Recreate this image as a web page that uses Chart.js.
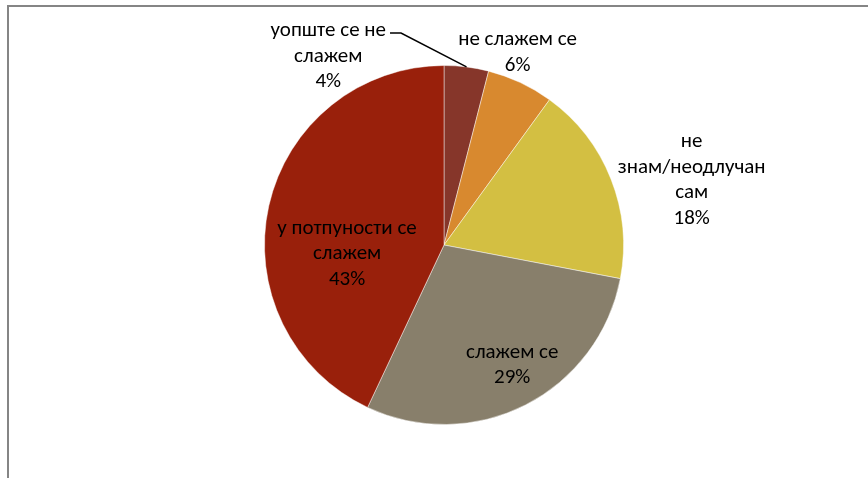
<!DOCTYPE html>
<html>
<head>
<meta charset="utf-8">
<script src="https://cdn.jsdelivr.net/npm/chart.js@4"></script>
<style>
  html, body { margin: 0; padding: 0; background: #fff; }
  body { width: 868px; height: 478px; overflow: hidden; position: relative; }
  .okvir { position: absolute; left: 7px; top: 5px; width: 900px; height: 500px; border: 2px solid #858585; }
  canvas { position: absolute; left: 0; top: 0; }
</style>
</head>
<body>
<div class="okvir"></div>
<canvas id="pita" width="868" height="478"></canvas>
<script>
// podaci sa grafikona
const kategorije = [
  ["уопште се не", "слажем"],
  ["не слажем се"],
  ["не", "знам/неодлучан", "сам"],
  ["слажем се"],
  ["у потпуности се", "слажем"]
];
const procenti = [4, 6, 18, 29, 43];
const boje = ["#86362A", "#D8892F", "#D3BF42", "#887F6B", "#99200B"];

// polozaj natpisa u odnosu na centar, u jedinicama poluprecnika
const polozajNatpisa = [
  [-0.645, -1.05],
  [0.41, -1.07],
  [1.38, -0.36],
  [0.38, 0.67],
  [-0.54, 0.05]
];

const font = "21px Carlito, 'Open Sans', sans-serif";
const visinaReda = 25.5;

const natpisi = {
  id: "natpisi",
  afterDatasetsDraw(chart) {
    const ctx = chart.ctx;
    const luk = chart.getDatasetMeta(0).data;
    ctx.save();
    ctx.font = font;
    ctx.fillStyle = "#000";
    ctx.textAlign = "center";
    ctx.textBaseline = "middle";
    luk.forEach((a, i) => {
      const r = a.outerRadius;
      const x = a.x + polozajNatpisa[i][0] * r;
      const y = a.y + polozajNatpisa[i][1] * r;
      const redovi = kategorije[i].concat([procenti[i] + "%"]);
      const y0 = y - (redovi.length - 1) * visinaReda / 2;
      redovi.forEach((t, j) => ctx.fillText(t, x, y0 + j * visinaReda));

      if (i === 0) {
        // linija vodilja do kriske
        const sr = (a.startAngle + a.endAngle) / 2;
        const kx = a.x + Math.cos(sr) * r;
        const ky = a.y + Math.sin(sr) * r;
        const sirina = ctx.measureText(redovi[0]).width;
        const lx = x + sirina / 2 + 4;
        const ly = y0 + 2;
        ctx.strokeStyle = "#000";
        ctx.lineWidth = 1.5;
        ctx.beginPath();
        ctx.moveTo(lx, ly);
        ctx.lineTo(lx + 11, ly);
        ctx.lineTo(kx, ky);
        ctx.stroke();
      }
    });
    ctx.restore();
  }
};

new Chart(document.getElementById("pita"), {
  type: "pie",
  data: {
    labels: kategorije.map(k => k.join(" ")),
    datasets: [{
      data: procenti,
      backgroundColor: boje,
      borderColor: "rgba(255,255,255,0.45)",
      borderWidth: 1
    }]
  },
  options: {
    responsive: false,
    animation: false,
    layout: { padding: { left: 264, right: 244, top: 65, bottom: 53 } },
    plugins: {
      legend: { display: false },
      tooltip: { enabled: false }
    }
  },
  plugins: [natpisi]
});
</script>
</body>
</html>
